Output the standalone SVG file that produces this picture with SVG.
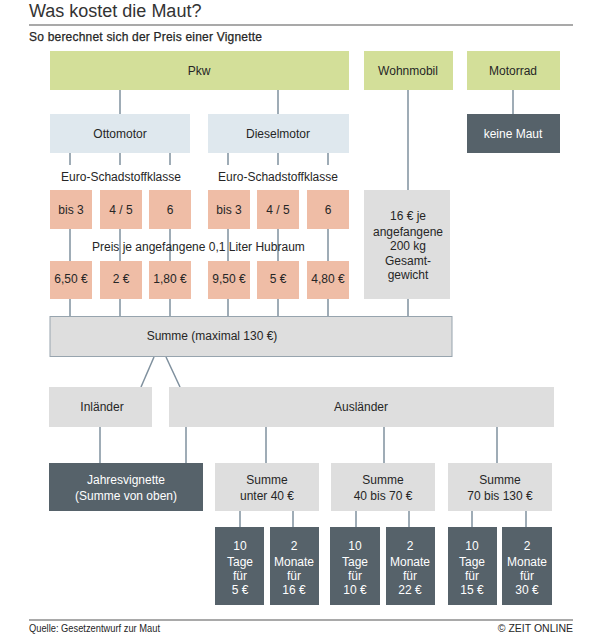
<svg xmlns="http://www.w3.org/2000/svg" width="599" height="640" viewBox="0 0 599 640">
<style>
text{font-family:"Liberation Sans",Arial,sans-serif;font-size:12px;fill:#262626;text-anchor:middle}
.g{fill:#d3df99}
.b{fill:#dfe8ee}
.s{fill:#efbda6}
.y{fill:#dedede}
.d{fill:#56626a}
.w{fill:#ffffff}
.c line{stroke:#7f909e;stroke-width:1.5}
.rule{stroke:#555;stroke-width:1.2}
</style>
<rect width="599" height="640" fill="#fff"/>
<text x="29" y="17" style="font-size:18px;text-anchor:start;fill:#333">Was kostet die Maut?</text>
<line class="rule" x1="29" y1="25" x2="573" y2="25"/>
<text x="29" y="41" style="text-anchor:start;font-size:12px;stroke:#262626;stroke-width:0.25" textLength="233" lengthAdjust="spacing">So berechnet sich der Preis einer Vignette</text>

<g id="connectors" class="c">
<line x1="120" y1="90" x2="120" y2="114"/>
<line x1="278" y1="90" x2="278" y2="114"/>
<line x1="513" y1="90" x2="513" y2="114"/>
<line x1="408" y1="90" x2="408" y2="190"/>
<line x1="408" y1="299" x2="408" y2="316"/>
<line x1="70" y1="153" x2="70" y2="165"/>
<line x1="120" y1="153" x2="120" y2="165"/>
<line x1="170" y1="153" x2="170" y2="165"/>
<line x1="228" y1="153" x2="228" y2="165"/>
<line x1="278" y1="153" x2="278" y2="165"/>
<line x1="328" y1="153" x2="328" y2="165"/>
<line x1="70" y1="229" x2="70" y2="261"/>
<line x1="120" y1="229" x2="120" y2="261"/>
<line x1="170" y1="229" x2="170" y2="261"/>
<line x1="228" y1="229" x2="228" y2="261"/>
<line x1="278" y1="229" x2="278" y2="261"/>
<line x1="328" y1="229" x2="328" y2="261"/>
<line x1="70" y1="299" x2="70" y2="316"/>
<line x1="120" y1="299" x2="120" y2="316"/>
<line x1="170" y1="299" x2="170" y2="316"/>
<line x1="228" y1="299" x2="228" y2="316"/>
<line x1="278" y1="299" x2="278" y2="316"/>
<line x1="328" y1="299" x2="328" y2="316"/>
<line x1="154" y1="357" x2="141" y2="387"/>
<line x1="166" y1="357" x2="180" y2="387"/>
<line x1="100" y1="427" x2="100" y2="463"/>
<line x1="186" y1="427" x2="186" y2="463"/>
<line x1="266" y1="427" x2="266" y2="463"/>
<line x1="384" y1="427" x2="384" y2="463"/>
<line x1="497" y1="427" x2="497" y2="463"/>
<line x1="240" y1="511" x2="240" y2="527"/>
<line x1="293" y1="511" x2="293" y2="527"/>
<line x1="356" y1="511" x2="356" y2="527"/>
<line x1="409" y1="511" x2="409" y2="527"/>
<line x1="472" y1="511" x2="472" y2="527"/>
<line x1="526" y1="511" x2="526" y2="527"/>
</g>

<g id="pkw"><rect class="g" x="50" y="51" width="299" height="39"/><text x="199" y="75">Pkw</text></g>
<g id="wohnmobil"><rect class="g" x="364" y="51" width="89" height="39"/><text x="408" y="75">Wohnmobil</text></g>
<g id="motorrad"><rect class="g" x="467" y="51" width="93" height="39"/><text x="513" y="75">Motorrad</text></g>
<g id="keine-maut"><rect class="d" x="467" y="114" width="93" height="39"/><text x="513" y="138" style="fill:#fff">keine Maut</text></g>
<g id="ottomotor"><rect class="b" x="50" y="114" width="140" height="39"/><text x="120" y="138">Ottomotor</text></g>
<g id="dieselmotor"><rect class="b" x="208" y="114" width="141" height="39"/><text x="278" y="138">Dieselmotor</text></g>

<g id="label-euro-otto"><text x="121" y="181">Euro-Schadstoffklasse</text></g>
<g id="label-euro-diesel"><text x="278" y="181">Euro-Schadstoffklasse</text></g>

<g id="otto-bis3"><rect class="s" x="50" y="190" width="42" height="39"/><text x="71" y="214">bis 3</text></g>
<g id="otto-45"><rect class="s" x="100" y="190" width="42" height="39"/><text x="121" y="214">4 / 5</text></g>
<g id="otto-6"><rect class="s" x="149" y="190" width="42" height="39"/><text x="170" y="214">6</text></g>
<g id="diesel-bis3"><rect class="s" x="208" y="190" width="42" height="39"/><text x="229" y="214">bis 3</text></g>
<g id="diesel-45"><rect class="s" x="257" y="190" width="42" height="39"/><text x="278" y="214">4 / 5</text></g>
<g id="diesel-6"><rect class="s" x="307" y="190" width="42" height="39"/><text x="328" y="214">6</text></g>

<g id="wohnmobil-preis"><rect class="y" x="364" y="190" width="86" height="109"/>
<text x="408" y="220">16 € je</text><text x="408" y="235.5">angefangene</text><text x="408" y="250">200 kg</text><text x="408" y="264.5">Gesamt-</text><text x="408" y="279">gewicht</text></g>

<g id="label-preis"><text x="92" y="251" style="text-anchor:start">Preis je angefangene 0,1 Liter Hubraum</text></g>

<g id="p-650"><rect class="s" x="50" y="261" width="42" height="38"/><text x="71" y="283">6,50 €</text></g>
<g id="p-2"><rect class="s" x="100" y="261" width="42" height="38"/><text x="121" y="283">2 €</text></g>
<g id="p-180"><rect class="s" x="149" y="261" width="42" height="38"/><text x="170" y="283">1,80 €</text></g>
<g id="p-950"><rect class="s" x="208" y="261" width="42" height="38"/><text x="229" y="283">9,50 €</text></g>
<g id="p-5"><rect class="s" x="257" y="261" width="42" height="38"/><text x="278" y="283">5 €</text></g>
<g id="p-480"><rect class="s" x="307" y="261" width="42" height="38"/><text x="328" y="283">4,80 €</text></g>

<g id="summe"><rect class="y" x="50" y="316.5" width="402" height="40" style="stroke:#97a4ae;stroke-width:1"/><text x="212" y="340">Summe (maximal 130 €)</text></g>

<g id="inlaender"><rect class="y" x="49" y="387" width="103" height="40"/><text x="102" y="411">Inländer</text></g>
<g id="auslaender"><rect class="y" x="169" y="387" width="385" height="40"/><text x="361" y="411">Ausländer</text></g>

<g id="jahresvignette"><rect class="d" x="49" y="463" width="154" height="48"/><text x="126" y="484" style="fill:#fff">Jahresvignette</text><text x="126" y="500" style="fill:#fff">(Summe von oben)</text></g>
<g id="summe-unter40"><rect class="y" x="215" y="463" width="104" height="48"/><text x="267" y="484">Summe</text><text x="267" y="500">unter 40 €</text></g>
<g id="summe-40-70"><rect class="y" x="331" y="463" width="104" height="48"/><text x="383" y="484">Summe</text><text x="383" y="500">40 bis 70 €</text></g>
<g id="summe-70-130"><rect class="y" x="448" y="463" width="104" height="48"/><text x="500" y="484">Summe</text><text x="500" y="500">70 bis 130 €</text></g>

<g id="t1"><rect class="d" x="215" y="527" width="49" height="78"/><text x="240" y="550" class="w">10</text><text x="240" y="566" class="w">Tage</text><text x="240" y="580" class="w">für</text><text x="240" y="594" class="w">5 €</text></g>
<g id="m1"><rect class="d" x="270" y="527" width="49" height="78"/><text x="294" y="550" class="w">2</text><text x="294" y="566" class="w">Monate</text><text x="294" y="580" class="w">für</text><text x="294" y="594" class="w">16 €</text></g>
<g id="t2"><rect class="d" x="330" y="527" width="50" height="78"/><text x="355" y="550" class="w">10</text><text x="355" y="566" class="w">Tage</text><text x="355" y="580" class="w">für</text><text x="355" y="594" class="w">10 €</text></g>
<g id="m2"><rect class="d" x="386" y="527" width="49" height="78"/><text x="410" y="550" class="w">2</text><text x="410" y="566" class="w">Monate</text><text x="410" y="580" class="w">für</text><text x="410" y="594" class="w">22 €</text></g>
<g id="t3"><rect class="d" x="448" y="527" width="49" height="78"/><text x="472" y="550" class="w">10</text><text x="472" y="566" class="w">Tage</text><text x="472" y="580" class="w">für</text><text x="472" y="594" class="w">15 €</text></g>
<g id="m3"><rect class="d" x="502" y="527" width="50" height="78"/><text x="527" y="550" class="w">2</text><text x="527" y="566" class="w">Monate</text><text x="527" y="580" class="w">für</text><text x="527" y="594" class="w">30 €</text></g>

<line class="rule" x1="29" y1="620" x2="573" y2="620"/>
<text x="29" y="632" style="text-anchor:start;font-size:10.5px" textLength="131" lengthAdjust="spacingAndGlyphs">Quelle: Gesetzentwurf zur Maut</text>
<text x="573" y="632" style="text-anchor:end;font-size:10.5px">© ZEIT ONLINE</text>
</svg>
